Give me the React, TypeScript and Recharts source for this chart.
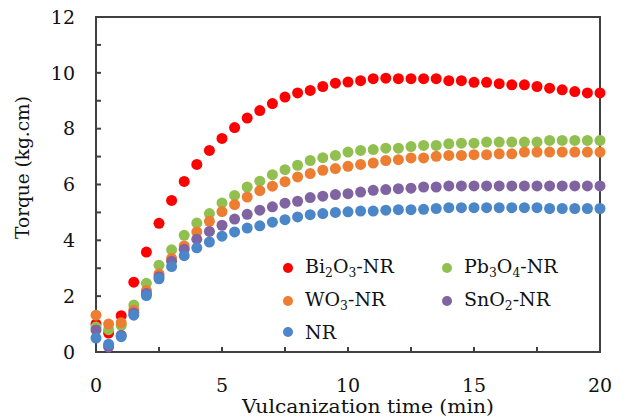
import {
  Label,
  Legend,
  ReferenceArea,
  Scatter,
  ScatterChart,
  XAxis,
  YAxis,
} from "recharts";

// vulcanization time (min)
const times = [
  0, 0.5, 1, 1.5, 2, 2.5, 3, 3.5, 4, 4.5, 5, 5.5, 6, 6.5, 7, 7.5, 8, 8.5, 9,
  9.5, 10, 10.5, 11, 11.5, 12, 12.5, 13, 13.5, 14, 14.5, 15, 15.5, 16, 16.5,
  17, 17.5, 18, 18.5, 19, 19.5, 20,
];

// torque (kg.cm)
const bi2o3 = [
  1.0, 0.68, 1.3, 2.5, 3.58, 4.61, 5.43, 6.11, 6.72, 7.22, 7.65, 8.04, 8.38,
  8.65, 8.9, 9.13, 9.28, 9.37, 9.51, 9.63, 9.67, 9.72, 9.79, 9.81, 9.79, 9.79,
  9.79, 9.79, 9.72, 9.72, 9.66, 9.66, 9.61, 9.57, 9.57, 9.51, 9.45, 9.39, 9.33,
  9.28, 9.28,
];
const pb3o4 = [
  0.9, 0.8, 0.95, 1.68, 2.46, 3.11, 3.66, 4.18, 4.62, 4.96, 5.34, 5.61, 5.91,
  6.12, 6.35, 6.53, 6.69, 6.86, 6.96, 7.04, 7.16, 7.22, 7.25, 7.3, 7.3, 7.36,
  7.4, 7.4, 7.46, 7.48, 7.48, 7.52, 7.52, 7.52, 7.52, 7.52, 7.58, 7.58, 7.58,
  7.58, 7.58,
];
const wo3 = [
  1.32, 1.0, 1.05, 1.5, 2.2, 2.8, 3.35, 3.8, 4.3, 4.68, 5.03, 5.28, 5.55, 5.78,
  5.94, 6.1, 6.27, 6.39, 6.51, 6.57, 6.65, 6.72, 6.77, 6.86, 6.89, 6.95, 6.95,
  7.01, 7.04, 7.04, 7.07, 7.07, 7.1, 7.1, 7.16, 7.16, 7.16, 7.16, 7.16, 7.16,
  7.16,
];
const sno2 = [
  0.79, 0.18, 0.6, 1.4, 2.1, 2.7, 3.25, 3.68, 4.04, 4.32, 4.54, 4.76, 4.93,
  5.08, 5.2, 5.33, 5.4, 5.53, 5.58, 5.64, 5.67, 5.73, 5.79, 5.82, 5.85, 5.87,
  5.91, 5.91, 5.95, 5.95, 5.95, 5.95, 5.95, 5.95, 5.95, 5.95, 5.95, 5.95, 5.95,
  5.95, 5.95,
];
const nr = [
  0.5, 0.28, 0.55, 1.32, 2.02, 2.62, 3.06, 3.45, 3.73, 3.94, 4.15, 4.3, 4.44,
  4.52, 4.65, 4.74, 4.84, 4.92, 4.96, 5.0, 5.02, 5.05, 5.05, 5.08, 5.1, 5.1,
  5.11, 5.14, 5.17, 5.17, 5.17, 5.17, 5.17, 5.17, 5.17, 5.17, 5.14, 5.14, 5.14,
  5.14, 5.14,
];

const seriesNames = ["Bi2O3-NR", "Pb3O4-NR", "WO3-NR", "SnO2-NR", "NR"];
const seriesValues = [bi2o3, pb3o4, wo3, sno2, nr];
const seriesColors = ["#ff0000", "#92c050", "#ed7d31", "#8064a2", "#4a86c8"];

const xTicks = [0, 2.5, 5, 7.5, 10, 12.5, 15, 17.5, 20];
const yTicks = [0, 1, 2, 3, 4, 5, 6, 7, 8, 9, 10, 11, 12];

const FONT = "'DejaVu Serif', serif";
const AXIS = "#404040";

// digits in the chemical formulas are subscripts
function formula(name: string) {
  return name.split(/(\d)/).map((part, i) =>
    /\d/.test(part) ? (
      <span key={i} style={{ fontSize: "0.65em", position: "relative", top: "0.3em" }}>
        {part}
      </span>
    ) : (
      <span key={i}>{part}</span>
    )
  );
}

function renderLegend(props: any) {
  const payload = [...(props.payload || [])].sort(
    (a: any, b: any) => seriesNames.indexOf(a.value) - seriesNames.indexOf(b.value)
  );
  return (
    <div
      style={{
        display: "grid",
        gridTemplateColumns: "159px 159px",
        fontFamily: FONT,
        fontSize: 19,
        lineHeight: "30px",
        color: "#111",
      }}
    >
      {payload.map((entry: any) => {
        const idx = seriesNames.indexOf(entry.value);
        const color = idx >= 0 ? seriesColors[idx] : entry.color;
        return (
          <div key={entry.value} style={{ display: "flex", alignItems: "center" }}>
            <svg width={10} height={10} style={{ marginRight: 12 }}>
              <circle cx={5} cy={5} r={5} fill={color} />
            </svg>
            <span>{formula(entry.value)}</span>
          </div>
        );
      })}
    </div>
  );
}

const dot = (color: string) => (props: any) =>
  <circle cx={props.cx} cy={props.cy} r={5.5} fill={color} />;

export default function App() {
  return (
    <>
      <style>{`body{margin:0}`}</style>
      <ScatterChart
        width={625}
        height={418}
        margin={{ top: 17, right: 25, left: 0, bottom: 0 }}
        style={{ fontFamily: FONT }}
      >
        <XAxis
          type="number"
          dataKey="t"
          domain={[0, 20]}
          ticks={xTicks}
          interval={0}
          height={66}
          tickSize={-5}
          tickMargin={32}
          stroke={AXIS}
          strokeWidth={2}
          tick={{ fill: "#111", fontSize: 19, fontFamily: FONT }}
          tickFormatter={(v: number) => (v % 5 === 0 ? String(v) : "")}
        >
          <Label
            content={(p: any) => {
              const vb = p.viewBox;
              return (
                <text
                  x={vb.x + vb.width / 2 + 20}
                  y={vb.y + 61}
                  textAnchor="middle"
                  fontSize={18}
                  fontFamily={FONT}
                  fill="#111"
                  textLength={252}
                  lengthAdjust="spacingAndGlyphs"
                >
                  Vulcanization time (min)
                </text>
              );
            }}
          />
        </XAxis>
        <YAxis
          type="number"
          dataKey="v"
          domain={[0, 12]}
          ticks={yTicks}
          interval={0}
          width={96}
          tickSize={-5}
          tickMargin={26}
          stroke={AXIS}
          strokeWidth={2}
          tick={{ fill: "#111", fontSize: 19, fontFamily: FONT }}
          tickFormatter={(v: number) => (v % 2 === 0 ? String(v) : "")}
        >
          <Label
            content={(p: any) => {
              const vb = p.viewBox;
              const x = vb.x + 29;
              const y = vb.y + vb.height / 2 - 17;
              return (
                <text
                  x={x}
                  y={y}
                  transform={`rotate(-90, ${x}, ${y})`}
                  textAnchor="middle"
                  fontSize={18.5}
                  fontFamily={FONT}
                  fill="#111"
                >
                  Torque (kg.cm)
                </text>
              );
            }}
          />
        </YAxis>
        {seriesNames.map((name, s) => (
          <Scatter
            key={name}
            name={name}
            data={times.map((t, i) => ({ t, v: seriesValues[s][i] }))}
            fill={seriesColors[s]}
            shape={dot(seriesColors[s])}
            isAnimationActive={false}
          />
        ))}
        <ReferenceArea
          x1={0}
          x2={20}
          y1={0}
          y2={12}
          fill="none"
          stroke={AXIS}
          strokeWidth={2}
          fillOpacity={0}
        />
        <Legend
          layout="horizontal"
          verticalAlign="middle"
          align="center"
          content={renderLegend}
          wrapperStyle={{ left: 283, top: 251, width: 330 }}
        />
      </ScatterChart>
    </>
  );
}
